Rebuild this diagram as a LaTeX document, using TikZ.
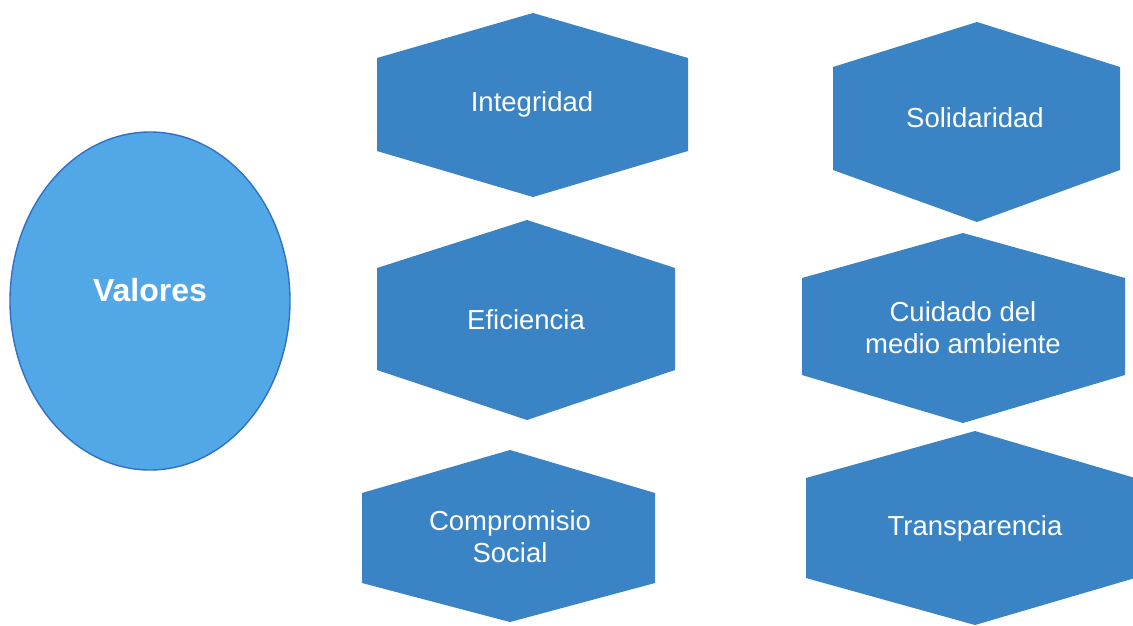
\documentclass[tikz,border=0pt]{standalone}
\usepackage{fontspec}
\setmainfont{Liberation Sans}
\definecolor{hexblue}{HTML}{3A83C5}
\definecolor{ellblue}{HTML}{52A8E6}
\definecolor{ellline}{HTML}{3270C6}
\tikzset{
  hexshape/.style={fill=hexblue, draw=none},
  hextext/.style={text=white, align=center, font=\fontsize{27.5}{32}\selectfont, inner sep=0pt},
  elltext/.style={text=white, font=\bfseries\fontsize{32}{36}\selectfont, inner sep=0pt}
}
\begin{document}
\begin{tikzpicture}[x=1pt,y=-1pt]
\useasboundingbox (0,0) rectangle (1133,625);
\fill[white] (0,0) rectangle (1133,625);
\begin{scope}
\clip (0,0) rectangle (1133,625);
% ellipse
\draw[fill=ellblue, draw=ellline, line width=1.4pt] (150,301) ellipse [x radius=140, y radius=169];
\node[elltext] (valores) at (150,290) {Valores};
% hexagons
\path[hexshape] (533,13) -- (688,58) -- (688,151) -- (533,197) -- (377,151) -- (377,58) -- cycle;
\node[hextext] (integridad) at (532,104) {Integridad};
\path[hexshape] (977,22) -- (1120,67) -- (1120,170) -- (977,222) -- (833,170) -- (833,67) -- cycle;
\node[hextext] (solidaridad) at (975,118) {Solidaridad};
\path[hexshape] (527,220) -- (675,268) -- (675,370) -- (527,420) -- (377,370) -- (377,268) -- cycle;
\node[hextext] (eficiencia) at (526,320) {Eficiencia};
\path[hexshape] (963,233) -- (1125,278) -- (1125,375) -- (963,423) -- (802,375) -- (802,278) -- cycle;
\node[hextext] (cuidado) at (963,328) {Cuidado del\\medio ambiente};
\path[hexshape] (510,450) -- (655,493) -- (655,583) -- (510,622) -- (362,583) -- (362,493) -- cycle;
\node[hextext] (compromiso) at (510,537) {Compromisio\\Social};
\path[hexshape] (975,431) -- (1135,478) -- (1135,578) -- (975,625) -- (806,578) -- (806,478) -- cycle;
\node[hextext] (transparencia) at (975,528) {Transparencia};
\end{scope}
\end{tikzpicture}
\end{document}
